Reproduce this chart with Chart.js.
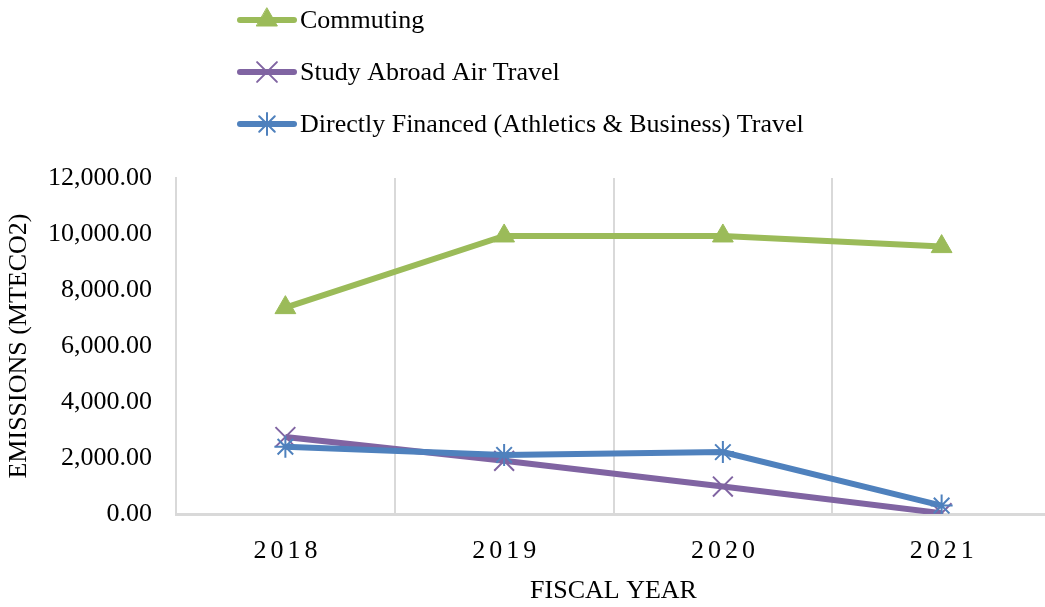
<!DOCTYPE html>
<html>
<head>
<meta charset="utf-8">
<script src="https://cdn.jsdelivr.net/npm/chart.js@4/dist/chart.umd.min.js"></script>
<style>
  html, body { margin: 0; padding: 0; background: #fff; overflow: hidden; }
  #wrap { width: 1067px; height: 607px; }
</style>
</head>
<body>
<div id="wrap"><canvas id="myChart"></canvas></div>
<script>
const years = ['2018', '2019', '2020', '2021']; // fiscal years
const commuting = [7370, 9930, 9930, 9550];
const studyAbroad = [2750, 1900, 980, 30];
const directTravel = [2400, 2110, 2210, 300];
const yTicks = [0, 2000, 4000, 6000, 8000, 10000, 12000];

const serif = "'Liberation Serif', 'Times New Roman', serif";

// vertical legend at the top, drawn on the canvas
const stackedLegend = {
    id: 'stackedLegend',
    afterDraw(chart) {
        const ctx = chart.ctx;
        chart.data.datasets.forEach((ds, i) => {
            const y = 20 + i * 52;
            ctx.save();
            ctx.strokeStyle = ds.borderColor;
            ctx.lineWidth = 6;
            ctx.lineCap = 'round';
            ctx.beginPath();
            ctx.moveTo(240, y);
            ctx.lineTo(294, y);
            ctx.stroke();
            ctx.fillStyle = ds.pointBackgroundColor;
            ctx.strokeStyle = ds.pointBorderColor;
            ctx.lineWidth = ds.pointBorderWidth;
            Chart.helpers.drawPoint(ctx, {
                pointStyle: ds.pointStyle,
                radius: ds.pointRadius,
                rotation: 0,
                borderWidth: ds.pointBorderWidth,
            }, 267, y);
            ctx.fillStyle = '#000';
            ctx.font = '26px ' + serif;
            ctx.textBaseline = 'middle';
            ctx.textAlign = 'left';
            ctx.fillText(ds.label, 300, y + 1);
            ctx.restore();
        });
    },
};

const ctx = document.getElementById('myChart').getContext('2d');

new Chart(ctx, {
    type: 'line',
    data: {
        labels: years,
        datasets: [{
            label: 'Commuting',
            data: commuting,
            borderColor: '#9BBB59',
            borderWidth: 6,
            pointStyle: 'triangle',
            pointRadius: 12,
            pointBackgroundColor: '#9BBB59',
            pointBorderColor: '#9BBB59',
            pointBorderWidth: 1,
            order: 3,
        }, {
            label: 'Study Abroad Air Travel',
            data: studyAbroad,
            borderColor: '#8064A2',
            borderWidth: 6,
            pointStyle: 'crossRot',
            pointRadius: 14,
            pointBackgroundColor: '#8064A2',
            pointBorderColor: '#8064A2',
            pointBorderWidth: 2,
            order: 2,
        }, {
            label: 'Directly Financed (Athletics & Business) Travel',
            data: directTravel,
            borderColor: '#4F81BD',
            borderWidth: 6,
            pointStyle: 'star',
            pointRadius: 11,
            pointBackgroundColor: '#4F81BD',
            pointBorderColor: '#4F81BD',
            pointBorderWidth: 2,
            order: 1,
        }],
    },
    options: {
        responsive: true,
        maintainAspectRatio: false,
        animation: false,
        events: [],
        layout: { padding: { top: 178, right: 0, bottom: 0, left: 0 } },
        plugins: {
            legend: { display: false },
            tooltip: { enabled: false },
        },
        elements: { line: { tension: 0 } },
        scales: {
            x: {
                offset: true,
                grid: { display: true, offset: true, drawTicks: false, color: '#D9D9D9', lineWidth: 2 },
                border: { display: true, color: '#D9D9D9', width: 3 },
                ticks: { color: '#000', padding: 22, font: { family: serif, size: 26 } },
                title: {
                    display: true,
                    text: 'FISCAL YEAR',
                    color: '#000',
                    padding: 0,
                    font: { family: serif, size: 26 },
                },
                afterFit(scale) {
                    scale.height = 93;
                    // spaced-out year labels
                    if (!scale._spaced) {
                        const base = scale.drawLabels;
                        scale.drawLabels = function (area) {
                            this.ctx.save();
                            this.ctx.letterSpacing = '4px';
                            this.ctx.translate(2, 0);
                            base.call(this, area);
                            this.ctx.restore();
                        };
                        scale._spaced = true;
                    }
                },
            },
            y: {
                min: 0,
                max: 12000,
                afterBuildTicks(scale) { scale.ticks = yTicks.map(v => ({ value: v })); },
                grid: { display: false, drawTicks: false },
                border: { display: true, color: '#D9D9D9', width: 2 },
                ticks: {
                    color: '#000',
                    padding: 24,
                    font: { family: serif, size: 26 },
                    callback: v => Number(v).toLocaleString('en-US', { minimumFractionDigits: 2, maximumFractionDigits: 2 }),
                },
                title: {
                    display: true,
                    text: 'EMISSIONS (MTECO2)',
                    color: '#000',
                    padding: { top: 4, bottom: 0 },
                    font: { family: serif, size: 26 },
                },
                afterFit(scale) { scale.width = 176; },
            },
        },
    },
    plugins: [stackedLegend],
});
</script>
</body>
</html>
